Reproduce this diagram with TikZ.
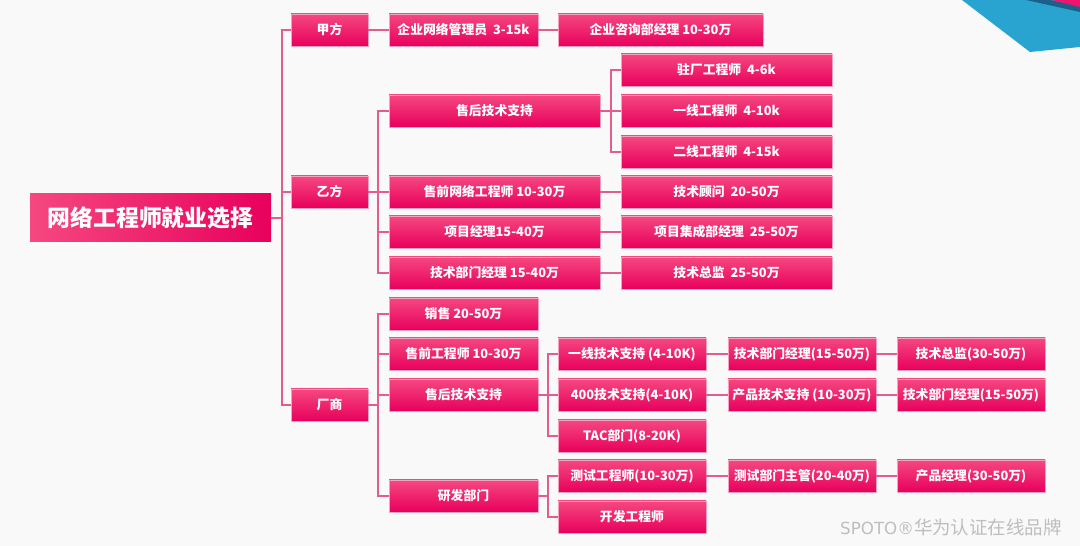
\documentclass[tikz,border=0pt]{standalone}
\usepackage{fontspec}
\setmainfont{Noto Sans CJK SC}
\newfontfamily\dejavu{DejaVu Sans}
\definecolor{bgc}{RGB}{249,249,249}
\definecolor{pinktop}{RGB}{245,72,128}
\definecolor{pinkbot}{RGB}{232,0,92}
\definecolor{pinkedge}{RGB}{248,160,192}
\definecolor{linec}{RGB}{226,92,142}
\definecolor{bluedeco}{RGB}{41,163,208}
\definecolor{pinkdeco}{RGB}{240,20,110}
\definecolor{navyshadow}{RGB}{20,40,80}
\definecolor{wmgray}{RGB}{190,190,190}
\tikzset{
  pbox/.style={rectangle, inner sep=0pt, top color=pinktop, bottom color=pinkbot,
    draw=pinkedge, line width=0.4pt, text=white,
    font=\fontsize{7.3}{8.5}\selectfont\bfseries},
  rootbox/.style={rectangle, inner sep=0pt, left color=pinktop, right color=pinkbot,
    text=white, font=\fontsize{13}{15}\selectfont\bfseries},
  conn/.style={draw=linec, line width=0.9pt},
}
\newcommand\mybox[7][pbox]{%
  \node[#1, minimum width={(#5-#3)*0.02cm}, minimum height={(#6-#4)*0.02cm}]
    (#2) at ({(#3+#5)/2},{(#4+#6)/2}) {#7};}
\begin{document}
\begin{tikzpicture}[x=0.02cm,y=-0.02cm]
\useasboundingbox (0,0) rectangle (1080,546);
\fill[bgc] (0,0) rectangle (1080,546);
% top-right decoration
\fill[bluedeco] (962,0) -- (1030,52) -- (1080,47) -- (1080,0) -- cycle;
\fill[navyshadow, opacity=0.55] (1026,0) -- (1080,12) -- (1080,6) -- (1050,0) -- cycle;
\fill[pinkdeco] (1052,0) -- (1080,7) -- (1080,0) -- cycle;

% root
\mybox[rootbox]{root}{30}{194}{271}{242}{网络工程师就业选择}
% level 1
\mybox{jia}{291}{14}{368}{46}{甲方}
\mybox{yi}{291}{176}{368}{208}{乙方}
\mybox{chang}{291}{389}{368}{421}{厂商}
% 甲方
\mybox{ja1}{389}{14}{538}{46}{企业网络管理员\ \ 3-15k}
\mybox{ja2}{558}{14}{763}{46}{企业咨询部经理 10-30万}
% 乙方
\mybox{yshh}{389}{95}{600}{127}{售后技术支持}
\mybox{yzc}{621}{54}{832}{86}{驻厂工程师\ \ 4-6k}
\mybox{yyx}{621}{95}{832}{127}{一线工程师\ \ 4-10k}
\mybox{yex}{621}{136}{832}{168}{二线工程师\ \ 4-15k}
\mybox{ysq}{389}{176}{600}{208}{售前网络工程师 10-30万}
\mybox{ygw}{621}{176}{832}{208}{技术顾问\ \ 20-50万}
\mybox{yxm}{389}{216}{600}{248}{项目经理15-40万}
\mybox{yjc}{621}{216}{832}{248}{项目集成部经理\ \ 25-50万}
\mybox{yjb}{389}{257}{600}{289}{技术部门经理 15-40万}
\mybox{yzj}{621}{257}{832}{289}{技术总监\ \ 25-50万}
% 厂商
\mybox{cxs}{389}{298}{538}{330}{销售 20-50万}
\mybox{csq}{389}{338}{538}{370}{售前工程师 10-30万}
\mybox{cshh}{389}{379}{538}{411}{售后技术支持}
\mybox{cyf}{389}{480}{538}{512}{研发部门}
\mybox{cyx}{558}{338}{706}{370}{一线技术支持 (4-10K)}
\mybox{c400}{558}{379}{706}{411}{400技术支持(4-10K)}
\mybox{ctac}{558}{420}{706}{452}{TAC部门(8-20K)}
\mybox{cjb1}{728}{338}{876}{370}{技术部门经理(15-50万)}
\mybox{czj}{897}{338}{1045}{370}{技术总监(30-50万)}
\mybox{ccp}{728}{379}{876}{411}{产品技术支持 (10-30万)}
\mybox{cjb2}{897}{379}{1045}{411}{技术部门经理(15-50万)}
\mybox{ccs}{558}{460}{706}{492}{测试工程师(10-30万)}
\mybox{ccz}{728}{460}{876}{492}{测试部门主管(20-40万)}
\mybox{ccj}{897}{460}{1045}{492}{产品经理(30-50万)}
\mybox{ckf}{558}{501}{706}{533}{开发工程师}

% junctions
\coordinate (tr) at (282,218);
\coordinate (jy) at (378,192);
\coordinate (jc) at (378,405);
\coordinate (jsh) at (611,111);
\coordinate (jcs) at (548,395);
\coordinate (jyf) at (548,496);

% connectors
\draw[conn] (root.east) -- (tr);
\draw[conn] (tr) |- (jia.west);
\draw[conn] (tr) |- (yi.west);
\draw[conn] (tr) |- (chang.west);
\draw[conn] (jia.east) -- (ja1.west);
\draw[conn] (ja1.east) -- (ja2.west);

\draw[conn] (yi.east) -- (jy);
\draw[conn] (jy) |- (yshh.west);
\draw[conn] (jy) |- (ysq.west);
\draw[conn] (jy) |- (yxm.west);
\draw[conn] (jy) |- (yjb.west);
\draw[conn] (yshh.east) -- (jsh);
\draw[conn] (jsh) |- (yzc.west);
\draw[conn] (jsh) |- (yyx.west);
\draw[conn] (jsh) |- (yex.west);
\draw[conn] (ysq.east) -- (ygw.west);
\draw[conn] (yxm.east) -- (yjc.west);
\draw[conn] (yjb.east) -- (yzj.west);

\draw[conn] (chang.east) -- (jc);
\draw[conn] (jc) |- (cxs.west);
\draw[conn] (jc) |- (csq.west);
\draw[conn] (jc) |- (cshh.west);
\draw[conn] (jc) |- (cyf.west);
\draw[conn] (cshh.east) -- (jcs);
\draw[conn] (jcs) |- (cyx.west);
\draw[conn] (jcs) |- (c400.west);
\draw[conn] (jcs) |- (ctac.west);
\draw[conn] (cyx.east) -- (cjb1.west);
\draw[conn] (cjb1.east) -- (czj.west);
\draw[conn] (c400.east) -- (ccp.west);
\draw[conn] (ccp.east) -- (cjb2.west);
\draw[conn] (cyf.east) -- (jyf);
\draw[conn] (jyf) |- (ccs.west);
\draw[conn] (jyf) |- (ckf.west);
\draw[conn] (ccs.east) -- (ccz.west);
\draw[conn] (ccz.east) -- (ccj.west);

% watermark
\node[text=wmgray, font=\fontsize{10.5}{12}\selectfont, anchor=east, inner sep=0pt] (wm) at (1062,527) {{\dejavu\fontsize{9.5}{12}\selectfont SPOTO®}华为认证在线品牌};
\end{tikzpicture}
\end{document}
